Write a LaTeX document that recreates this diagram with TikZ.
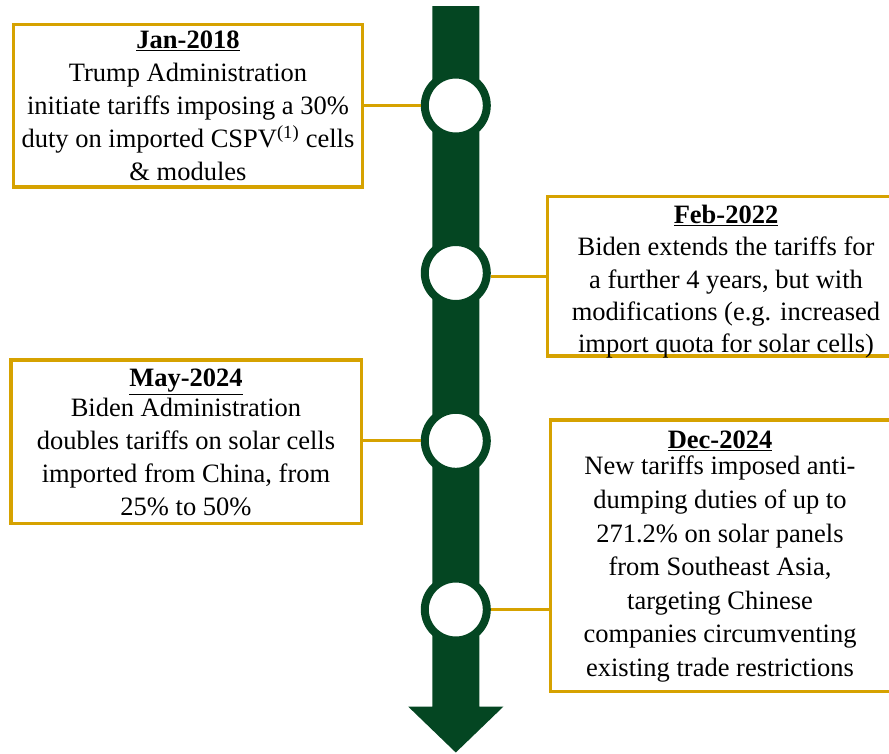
\documentclass[tikz,border=0pt]{standalone}
\usepackage{fontspec}
\setmainfont{Liberation Serif}
\definecolor{tlgreen}{HTML}{044622}
\definecolor{tlgold}{HTML}{D6A200}
\begin{document}
\begin{tikzpicture}[x=1pt,y=-1pt,
  evbox/.style={draw=tlgold, line width=3.3pt, fill=white, rectangle, inner sep=0pt},
  evtext/.style={anchor=north, align=center, inner sep=0pt, font=\fontsize{26.5}{32.8}\selectfont},
  ring/.style={circle, draw=tlgreen, line width=8pt, fill=white, minimum size=62pt, inner sep=0pt},
  conn/.style={draw=tlgold, line width=3.3pt}]
\path[use as bounding box] (0,0) rectangle (889,753);
\clip (0,0) rectangle (889,753);
% timeline arrow
\fill[tlgreen] (432.3,6) -- (479.3,6) -- (479.3,706.7) -- (503.3,706.7) -- (455.8,752.5)
  -- (408.3,706.7) -- (432.3,706.7) -- cycle;
% boxes
\node[evbox, minimum width=349.4pt, minimum height=162.7pt] (b1) at (188,105.7) {};
\node[evbox, minimum width=357.7pt, minimum height=159.3pt] (b2) at (726,276.3) {};
\node[evbox, minimum width=350.7pt, minimum height=163.3pt] (b3) at (186.3,441.7) {};
\node[evbox, minimum width=344.3pt, minimum height=271.7pt] (b4) at (722.8,555.8) {};
% circles
\node[ring] (c1) at (455.8,105.5) {};
\node[ring] (c2) at (455.8,273) {};
\node[ring] (c3) at (455.8,440.8) {};
\node[ring] (c4) at (455.8,609.5) {};
% connectors
\draw[conn] (c1.west) -- (c1.west -| b1.east);
\draw[conn] (b2.west) -- (b2.west -| c2.east);
\draw[conn] (c3.west) -- (c3.west -| b3.east);
\draw[conn] (c4.east) -- (c4.east -| b4.west);
% texts
\node[evtext] (t1) at (188,31) {\underline{\textbf{Jan-2018}}\\Trump Administration\\initiate tariffs imposing a 30\%\\duty on imported CSPV\textsuperscript{(1)} cells\\\& modules};
\node[evtext, font=\fontsize{26.5}{32.3}\selectfont] (t2) at (726,205) {\underline{\textbf{Feb-2022}}\\Biden extends the tariffs for\\a further 4 years, but with\\modifications (e.g. increased\\import quota for solar cells)};
\node[evtext] (t3) at (186,369) {\underline{\textbf{May-2024}}\\[-3pt]Biden Administration\\doubles tariffs on solar cells\\imported from China, from\\25\% to 50\%};
\node[evtext, font=\fontsize{26.5}{33.6}\selectfont] (t4) at (720,430.5) {\underline{\textbf{Dec-2024}}\\[-7pt]New tariffs imposed anti-\\dumping duties of up to\\271.2\% on solar panels\\from Southeast Asia,\\targeting Chinese\\companies circumventing\\existing trade restrictions};
\end{tikzpicture}
\end{document}
